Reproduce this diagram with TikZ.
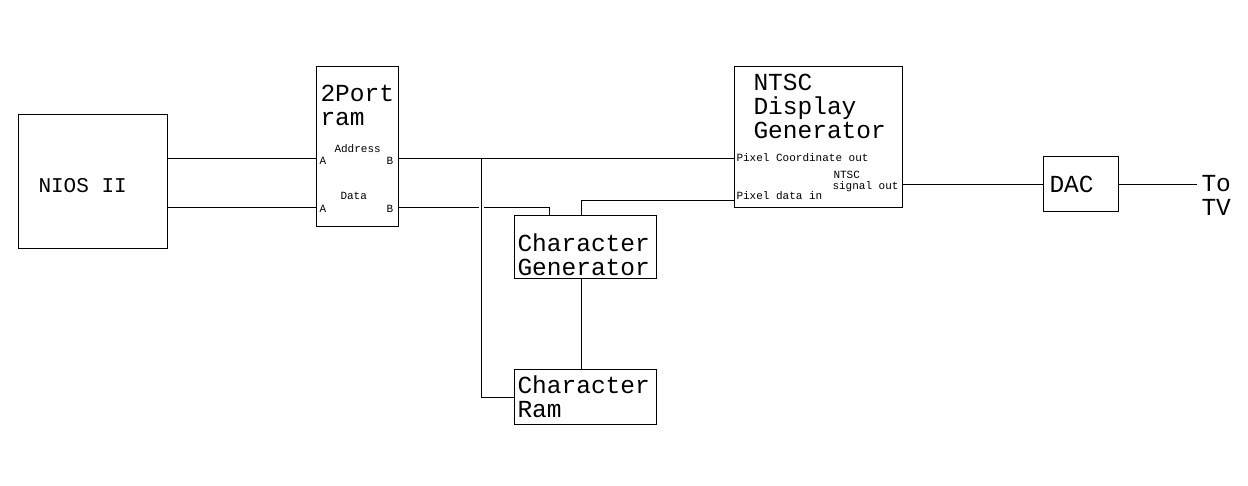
\documentclass[tikz,border=0pt]{standalone}
\usepackage{fontspec}
\setmonofont{Liberation Mono}
\begin{document}
\begin{tikzpicture}[x=1pt,y=-1pt,line width=1pt,
  blk/.style={draw,anchor=north west,inner sep=0pt},
  big/.style={font=\ttfamily\fontsize{24.5}{24}\selectfont,anchor=base west,inner sep=0pt,align=left},
  sml/.style={font=\ttfamily\fontsize{11}{11}\selectfont,anchor=base west,inner sep=0pt,align=left}]
\useasboundingbox (0,0) rectangle (1248,485);
% blocks
\node[blk,minimum width=149pt,minimum height=134pt] at (18,114) (nios) {};
\node[blk,minimum width=82pt,minimum height=160pt] at (316,66) (ram) {};
\node[blk,minimum width=168pt,minimum height=141pt] at (734,66) (ntsc) {};
\node[blk,minimum width=142pt,minimum height=63pt] at (514,215) (cgen) {};
\node[blk,minimum width=142pt,minimum height=55pt] at (514,369) (cram) {};
\node[blk,minimum width=75pt,minimum height=55pt] at (1043,156) (dac) {};
% block texts (base = last line)
\node[big,font=\ttfamily\fontsize{21}{21}\selectfont] at (38,192) (niost) {NIOS II};
\node[big] at (320,125) (ramt) {2Port\\ram};
\node[big] at (753,138) (ntsct) {NTSC\\Display\\Generator};
\node[big] at (517,275) (cgent) {Character\\Generator};
\node[big] at (517,417) (cramt) {Character\\Ram};
\node[big] at (1049,192) (dact) {DAC};
\node[big] at (1201,215) (tv) {To\\TV};
% port labels
\node[sml] at (334,152) (addr) {Address};
\node[sml] at (340,199) (data) {Data};
\node[sml] at (319,164) (a1) {A};
\node[sml] at (319,212) (a2) {A};
\node[sml] at (386,164) (b1) {B};
\node[sml] at (386,212) (b2) {B};
\node[sml] at (736,161) (pco) {Pixel Coordinate out};
\node[sml] at (832,189) (sig) {\hspace*{1pt}NTSC\\signal out};
\node[sml] at (736,199) (pdi) {Pixel data in};
% rows and columns of the wires
\coordinate (rowAddr) at (0,158);
\coordinate (rowData) at (0,207);
\coordinate (rowPix) at (0,200);
\coordinate (rowSig) at (0,184);
\coordinate (colBus) at (481,0);
\coordinate (colTick) at (549,0);
\coordinate (colGen) at (581,0);
% wires
\draw (nios.east |- rowAddr) -- (ram.west |- rowAddr);
\draw (nios.east |- rowData) -- (ram.west |- rowData);
\draw (ram.east |- rowAddr) -- (ntsc.west |- rowAddr);
\draw (colBus |- rowAddr) |- (cram.west);
\draw (ram.east |- rowData) -- ([xshift=-2.5pt]colBus |- rowData);
\draw ([xshift=2.5pt]colBus |- rowData) -| (colTick |- cgen.north);
\draw (cgen.north -| colGen) |- (ntsc.west |- rowPix);
\draw (cgen.south -| colGen) -- (cram.north -| colGen);
\draw (ntsc.east |- rowSig) -- (dac.west |- rowSig);
\draw (dac.east |- rowSig) -- ([xshift=-4pt]tv.west |- rowSig);
\end{tikzpicture}
\end{document}
